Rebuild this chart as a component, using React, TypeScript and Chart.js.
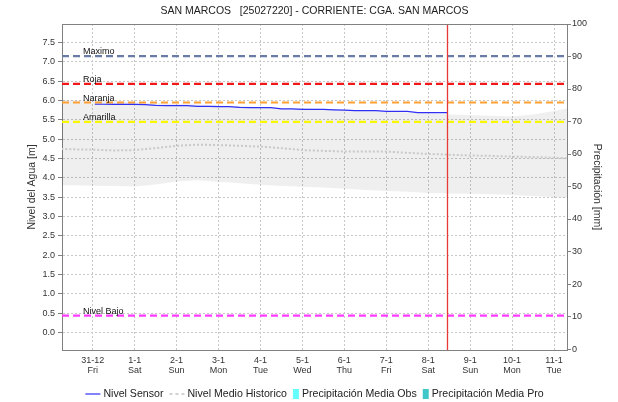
import { useEffect, useRef } from "react";
import { Chart, registerables } from "chart.js";

Chart.register(...registerables);

const FONT = "'Liberation Sans', Arial, sans-serif";

const chartTitle = "SAN MARCOS   [25027220] - CORRIENTE: CGA. SAN MARCOS";
const leftAxisTitle = "Nivel del Agua [m]";
const rightAxisTitle = "Precipitación [mm]";

// x values are days counted from 31-12 00:00
const xMin = -0.733;
const xMax = 11.31;
const tickDays = [0, 1, 2, 3, 4, 5, 6, 7, 8, 9, 10, 11];
const tickDates = ["31-12", "1-1", "2-1", "3-1", "4-1", "5-1", "6-1", "7-1", "8-1", "9-1", "10-1", "11-1"];
const tickWeekdays = ["Fri", "Sat", "Sun", "Mon", "Tue", "Wed", "Thu", "Fri", "Sat", "Sun", "Mon", "Tue"];

const levelMin = -0.45;
const levelMax = 7.98;
const levelTicks = [0, 0.5, 1, 1.5, 2, 2.5, 3, 3.5, 4, 4.5, 5, 5.5, 6, 6.5, 7, 7.5];
const rainMin = -0.3;
const rainMax = 100;
const rainTicks = [0, 10, 20, 30, 40, 50, 60, 70, 80, 90, 100];

// sensor readings (m)
const sensorDays = [
  0.05, 0.25, 0.5, 0.75, 1.0, 1.25, 1.5, 1.75, 2.0, 2.25, 2.5, 2.75, 3.0, 3.25, 3.5, 3.75, 4.0, 4.25,
  4.5, 4.75, 5.0, 5.25, 5.5, 5.75, 6.0, 6.25, 6.5, 6.75, 7.0, 7.25, 7.5, 7.75, 8.0, 8.25, 8.45,
];
const sensorLevel = [
  5.905, 5.905, 5.9, 5.9, 5.9, 5.895, 5.875, 5.87, 5.87, 5.87, 5.85, 5.85, 5.845, 5.845, 5.825, 5.82,
  5.82, 5.815, 5.785, 5.785, 5.77, 5.77, 5.77, 5.76, 5.755, 5.74, 5.74, 5.74, 5.72, 5.72, 5.72, 5.69,
  5.69, 5.69, 5.69,
];

// historical statistics (m)
const histDays = [
  -0.75, -0.5, 0, 0.5, 1, 1.5, 2, 2.5, 3, 3.5, 4, 4.5, 5, 5.5, 6, 6.5, 7, 7.5, 8, 8.5, 9, 9.5, 10,
  10.5, 11, 11.35,
];
const histMedian = [
  4.75, 4.74, 4.73, 4.71, 4.72, 4.77, 4.83, 4.86, 4.85, 4.83, 4.81, 4.77, 4.72, 4.7, 4.68, 4.68, 4.68,
  4.65, 4.62, 4.6, 4.58, 4.57, 4.55, 4.54, 4.52, 4.51,
];
const histUpper = [
  6.02, 6.01, 6.0, 5.98, 5.96, 5.94, 5.92, 5.9, 5.88, 5.86, 5.83, 5.81, 5.8, 5.78, 5.76, 5.74, 5.71,
  5.69, 5.67, 5.64, 5.63, 5.61, 5.59, 5.64, 5.73, 5.8,
];
const histLower = [
  3.81, 3.81, 3.8, 3.79, 3.78, 3.83, 3.91, 3.94, 3.9, 3.86, 3.82, 3.79, 3.77, 3.75, 3.72, 3.69, 3.66,
  3.64, 3.61, 3.6, 3.59, 3.58, 3.56, 3.53, 3.5, 3.48,
];

// alert thresholds (m)
const thresholdNames = ["Maximo", "Roja", "Naranja", "Amarilla", "Nivel Bajo"];
const thresholdLevels = [7.15, 6.43, 5.95, 5.45, 0.44];
const thresholdColors = ["#6B7BA8", "#F01818", "#FFA033", "#F8F800", "#FF3CFF"];

// current time marker
const nowDay = 8.46;

const legendNames = ["Nivel Sensor", "Nivel Medio Historico", "Precipitación Media Obs", "Precipitación Media Pro"];

const pts = (xs: number[], ys: number[]) => xs.map((x, i) => ({ x, y: ys[i] }));

const decorations = {
  id: "decorations",
  afterDatasetsDraw(chart: any) {
    const { ctx, chartArea, scales } = chart;
    ctx.save();
    // threshold captions
    ctx.font = `9px ${FONT}`;
    ctx.fillStyle = "#111";
    ctx.textAlign = "left";
    ctx.textBaseline = "alphabetic";
    thresholdNames.forEach((name, i) => {
      const y = scales.y.getPixelForValue(thresholdLevels[i]);
      ctx.fillText(name, chartArea.left + 21, y - 2);
    });
    // top outline of the plot
    ctx.strokeStyle = "#808080";
    ctx.lineWidth = 1;
    ctx.beginPath();
    ctx.moveTo(chartArea.left, chartArea.top + 0.5);
    ctx.lineTo(chartArea.right, chartArea.top + 0.5);
    ctx.stroke();
    ctx.restore();
  },
  afterDraw(chart: any) {
    const { ctx, chartArea } = chart;
    const cx = (chartArea.left + chartArea.right) / 2;
    const cy = (chartArea.top + chartArea.bottom) / 2;
    ctx.save();
    ctx.fillStyle = "#222";
    ctx.textAlign = "center";
    ctx.textBaseline = "middle";
    ctx.font = `10.5px ${FONT}`;
    ctx.fillText(chartTitle, cx, 11);

    ctx.fillStyle = "#333";
    ctx.font = `10.5px ${FONT}`;
    ctx.save();
    ctx.translate(32.5, cy);
    ctx.rotate(-Math.PI / 2);
    ctx.fillText(leftAxisTitle, 0, 0);
    ctx.restore();
    ctx.save();
    ctx.translate(597, cy);
    ctx.rotate(Math.PI / 2);
    ctx.fillText(rightAxisTitle, 0, 0);
    ctx.restore();

    // legend
    ctx.font = `10.6px ${FONT}`;
    const symW = [15, 15, 6, 6];
    const gapSym = 3;
    const gapItem = 6;
    const widths = legendNames.map((n, i) => symW[i] + gapSym + ctx.measureText(n).width);
    const total = widths.reduce((a, b) => a + b, 0) + gapItem * (legendNames.length - 1);
    let x = cx - total / 2;
    const ly = 394;
    ctx.textAlign = "left";
    ctx.textBaseline = "middle";
    legendNames.forEach((name, i) => {
      if (i === 0) {
        ctx.strokeStyle = "#2F2FF5";
        ctx.lineWidth = 1.2;
        ctx.setLineDash([]);
        ctx.beginPath();
        ctx.moveTo(x, ly);
        ctx.lineTo(x + symW[i], ly);
        ctx.stroke();
      } else if (i === 1) {
        ctx.strokeStyle = "#C4C4C4";
        ctx.lineWidth = 1.5;
        ctx.setLineDash([3, 3]);
        ctx.beginPath();
        ctx.moveTo(x, ly);
        ctx.lineTo(x + symW[i], ly);
        ctx.stroke();
        ctx.setLineDash([]);
      } else {
        ctx.fillStyle = i === 2 ? "#66FFFF" : "#40C8C8";
        ctx.fillRect(x, ly - 5, symW[i], 10);
      }
      ctx.fillStyle = "#222";
      ctx.fillText(name, x + symW[i] + gapSym, ly);
      x += widths[i] + gapItem;
    });
    ctx.restore();
  },
};

export default function App() {
  const canvasRef = useRef<HTMLCanvasElement | null>(null);

  useEffect(() => {
    const canvas = canvasRef.current;
    if (!canvas) return;

    const tickFont = { family: FONT, size: 9 };

    const thresholdSets = thresholdNames.map((name, i) => ({
      label: name,
      data: [
        { x: xMin, y: thresholdLevels[i] },
        { x: xMax, y: thresholdLevels[i] },
      ],
      borderColor: thresholdColors[i],
      borderWidth: 2.2,
      borderDash: [7, 4],
      fill: false,
      order: 2,
    }));

    const chart = new Chart(canvas, {
      type: "line",
      data: {
        datasets: [
          {
            label: "Ahora",
            data: [
              { x: nowDay, y: levelMin },
              { x: nowDay, y: levelMax },
            ],
            borderColor: "#E83838",
            borderWidth: 1.3,
            fill: false,
            order: 0,
          },
          {
            label: legendNames[0],
            data: pts(sensorDays, sensorLevel),
            borderColor: "#2F2FF5",
            borderWidth: 1.2,
            fill: false,
            order: 1,
          },
          ...thresholdSets,
          {
            label: legendNames[1],
            data: pts(histDays, histMedian),
            borderColor: "#C8C8C8",
            borderWidth: 2,
            borderDash: [2, 2],
            fill: false,
            order: 3,
          },
          {
            label: "Rango superior",
            data: pts(histDays, histUpper),
            borderWidth: 0,
            borderColor: "rgba(0,0,0,0)",
            backgroundColor: "rgba(0,0,0,0.062)",
            fill: "+1",
            order: 4,
          },
          {
            label: "Rango inferior",
            data: pts(histDays, histLower),
            borderWidth: 0,
            borderColor: "rgba(0,0,0,0)",
            fill: false,
            order: 5,
          },
        ] as any,
      },
      options: {
        animation: false,
        responsive: false,
        maintainAspectRatio: false,
        events: [],
        layout: { padding: { top: 24, left: 0, right: 0, bottom: 0 } },
        elements: { point: { radius: 0 }, line: { tension: 0 } },
        plugins: { legend: { display: false }, title: { display: false }, tooltip: { enabled: false } },
        scales: {
          x: {
            type: "linear",
            min: xMin,
            max: xMax,
            afterBuildTicks: (s: any) => {
              s.ticks = tickDays.map((v) => ({ value: v }));
            },
            afterFit: (s: any) => {
              s.height = 52;
            },
            ticks: {
              autoSkip: false,
              maxRotation: 0,
              padding: 5,
              color: "#333",
              font: { ...tickFont, lineHeight: 1.15 },
              callback: (_v: any, i: number) => [tickDates[i], tickWeekdays[i]],
            },
            grid: { color: "#C8C8C8", drawTicks: false },
            border: { color: "#808080", dash: [2, 2] },
          },
          y: {
            position: "left",
            min: levelMin,
            max: levelMax,
            afterBuildTicks: (s: any) => {
              s.ticks = levelTicks.map((v) => ({ value: v }));
            },
            afterFit: (s: any) => {
              s.width = 62;
            },
            ticks: {
              padding: 3,
              color: "#333",
              font: tickFont,
              callback: (v: any) => Number(v).toFixed(1),
            },
            grid: { color: "#C8C8C8", tickLength: 4, tickColor: "#808080" },
            border: { color: "#808080", dash: [2, 2] },
          },
          y2: {
            position: "right",
            min: rainMin,
            max: rainMax,
            afterBuildTicks: (s: any) => {
              s.ticks = rainTicks.map((v) => ({ value: v }));
            },
            afterFit: (s: any) => {
              s.width = 51;
            },
            ticks: {
              padding: 1,
              color: "#333",
              font: tickFont,
              callback: (v: any) => String(v),
            },
            grid: { drawOnChartArea: false, tickLength: 4, tickColor: "#808080" },
            border: { color: "#808080" },
          },
        },
      } as any,
      plugins: [decorations],
    });

    return () => chart.destroy();
  }, []);

  return (
    <div style={{ position: "fixed", left: 0, top: 0, width: 618, height: 402, background: "#fff" }}>
      <canvas ref={canvasRef} width={618} height={402} style={{ display: "block" }} />
    </div>
  );
}
